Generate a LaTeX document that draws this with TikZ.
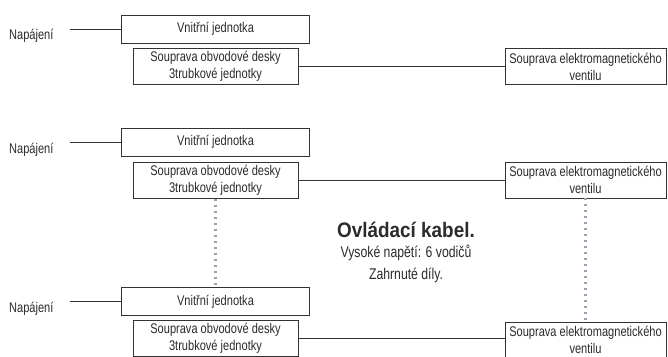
\documentclass[tikz,border=0pt]{standalone}
\usepackage{fontspec}
\setmainfont{Liberation Sans}[FakeStretch=0.79]
\newfontfamily\titlefont{Liberation Sans}[FakeStretch=0.9]
\usetikzlibrary{positioning,calc}
\definecolor{lineclr}{HTML}{333333}
\definecolor{txtclr}{HTML}{2b2b2b}
\definecolor{dotclr}{HTML}{95a3b5}

\begin{document}
\begin{tikzpicture}[
  x=1pt, y=-1pt,
  font=\fontsize{14}{17}\selectfont, text=txtclr,
  box/.style={
    rectangle, draw=lineclr, line width=0.9pt, fill=white,
    align=center, inner sep=0pt,
  },
  iubox/.style={box, minimum width=188, minimum height=28},
  pcbbox/.style={box, minimum width=165, minimum height=36},
  svbox/.style={box, minimum width=161, minimum height=36},
  pwr/.style={anchor=west, inner sep=0pt},
  wire/.style={line width=0.9pt, draw=lineclr},
  link/.style={line width=2.2pt, draw=dotclr, dash pattern=on 2pt off 4pt},
]
\clip (0,0) rectangle (668,356);
\useasboundingbox (0,0) rectangle (668,356);

% Group 1
\node[pwr] (pw1) at (9, 36) {Napájení};
\node[iubox] (iu1) at (215.5, 29) {Vnitřní jednotka};
\node[pcbbox] (pcb1) at (215.5, 66) {Souprava obvodové desky\\3trubkové jednotky};
\node[svbox] (sv1) at (585.5, 66.5) {Souprava elektromagnetického\\ventilu};

% Group 2
\node[pwr] (pw2) at (9, 150) {Napájení};
\node[iubox] (iu2) at (215.5, 142) {Vnitřní jednotka};
\node[pcbbox] (pcb2) at (215.5, 180.5) {Souprava obvodové desky\\3trubkové jednotky};
\node[svbox] (sv2) at (585.5, 180) {Souprava elektromagnetického\\ventilu};

% Group 3
\node[pwr] (pw3) at (9, 309) {Napájení};
\node[iubox] (iu3) at (215.5, 301.5) {Vnitřní jednotka};
\node[pcbbox] (pcb3) at (215.5, 338) {Souprava obvodové desky\\3trubkové jednotky};
\node[svbox] (sv3) at (585.5, 340) {Souprava elektromagnetického\\ventilu};

% Cable note
\node[font=\titlefont\fontsize{21}{22}\selectfont\bfseries] (cable) at (406, 230) {Ovládací kabel.};
\node[align=center, font=\fontsize{15.5}{22}\selectfont] (note) at (406, 264) {Vysoké napětí: 6 vodičů\\Zahrnuté díly.};

% Wires
\foreach \g in {1,2,3} {
  \draw[wire] (iu\g.west) -- ([xshift=16]pw\g.east |- iu\g.west);
  \draw[wire] (pcb\g.east) -- (pcb\g.east -| sv\g.west);
}

% Dotted links
\draw[link] (pcb2.south) -- (iu3.north);
\draw[link] (sv2.south) -- (sv3.north);

\end{tikzpicture}
\end{document}
